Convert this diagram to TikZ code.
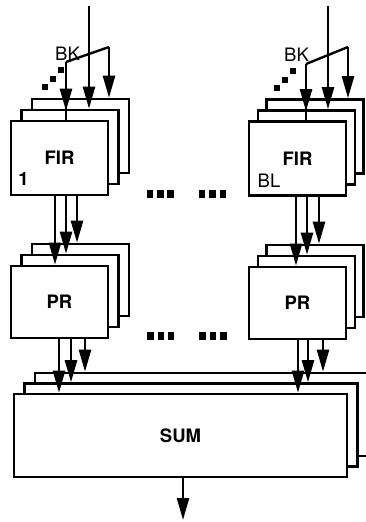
\documentclass[tikz,border=0pt]{standalone}
\usepackage{fontspec}
\setmainfont{TeX Gyre Heros}
\usetikzlibrary{arrows.meta}
\begin{document}
\begin{tikzpicture}[x=1pt,y=-1pt,
  box/.style={draw=black, line width=2.6pt, fill=white, inner sep=0pt,
    minimum width=97pt, minimum height=74pt,
    font=\fontsize{18.5}{18.5}\selectfont\bfseries},
  prbox/.style={box, minimum height=72pt},
  sumbox/.style={box, minimum width=333pt, minimum height=83pt},
  wire/.style={line width=2.4pt},
  arr/.style={wire, -{Triangle[width=12pt,length=22pt]}},
  sq/.style={fill=black, inner sep=0pt, minimum width=5.5pt, minimum height=5.5pt},
  el/.style={fill=black, inner sep=0pt, minimum width=6.5pt, minimum height=8pt},
  lab/.style={font=\fontsize{18.5}{18.5}\selectfont, inner sep=0pt}]
\useasboundingbox (0,0) rectangle (366,522);
\clip (0,0) rectangle (366,522);

% ---- FIR stacks ----
\node[box] (F1b) at (80.5,136) {};
\node[box] (F1m) at (70,147) {};
\node[box] (F1f) at (59.5,158) {FIR};
\node[box] (F2b) at (315,136.5) {};
\node[box] (F2m) at (306.5,147.5) {};
\node[box] (F2f) at (297.5,158.5) {FIR};

% ---- PR stacks ----
\node[prbox] (P1b) at (80.5,280) {};
\node[prbox] (P1m) at (70,291) {};
\node[prbox] (P1f) at (59.5,302) {PR};
\node[prbox] (P2b) at (315,281) {};
\node[prbox] (P2m) at (306.5,292) {};
\node[prbox] (P2f) at (297.5,303) {PR};

% ---- SUM stack ----
\node[sumbox] (Sb) at (201.5,414.5) {};
\node[sumbox] (Sm) at (191,425) {};
\node[sumbox] (Sf) at (180.5,435.5) {SUM};

% ---- labels ----
\node[lab] (bk1) at (67.5,54) {BK};
\node[lab] (bk2) at (296.5,54.5) {BK};
\node[lab, font=\fontsize{18.5}{18.5}\selectfont\bfseries] (n1) at (23.5,179) {1};
\node[lab] (nbl) at (269,181) {BL};

% staircase dots
\node[sq] (s11) at (45,87) {};
\node[sq] (s12) at (53,79) {};
\node[sq] (s13) at (61,70) {};
\node[sq] (s21) at (277,88) {};
\node[sq] (s22) at (285,80) {};
\node[sq] (s23) at (293,71) {};

% ellipsis dots
\foreach \x/\n in {150/a,160.5/b,170.5/c,202/d,212.5/e,223/f}{
  \node[el] (eF\n) at (\x,194) {};
  \node[el] (eP\n) at (\x+0.5,336) {};
}

% ---- inputs to FIR (left) ----
\coordinate (inL) at (89,6);
\coordinate (bL1) at (66,62);
\coordinate (bL2) at (109,47);
\draw[wire] (bL1) -- (bL2);
\draw[arr] (inL) -- (inL |- F1m.north);
\draw[arr] (bL2) -- (bL2 |- F1b.north);
\draw[wire] (bL1) -- (bL1 |- F1f.north);
\draw[arr, shorten >=9pt] (bL1) -- (bL1 |- F1f.north);

% ---- inputs to FIR (right) ----
\coordinate (inR) at (328,6);
\coordinate (bR1) at (306,64);
\coordinate (bR2) at (348,47);
\draw[wire] (bR1) -- (bR2);
\draw[arr] (inR) -- (inR |- F2m.north);
\draw[arr] (bR2) -- (bR2 |- F2b.north);
\draw[wire] (bR1) -- (bR1 |- F2f.north);
\draw[arr, shorten >=9pt] (bR1) -- (bR1 |- F2f.north);

% ---- FIR -> PR ----
\foreach \x/\t in {55/P1f,66/P1m,77/P1b}{
  \draw[arr] (\x,0 |- F1f.south) -- (\x,0 |- \t.north);
}
\foreach \x/\t in {296/P2f,307/P2m,319/P2b}{
  \draw[arr] (\x,0 |- F2f.south) -- (\x,0 |- \t.north);
}

% ---- PR -> SUM ----
\foreach \x/\t in {59/Sf,71/Sm,85/Sb}{
  \draw[arr] (\x,0 |- P1f.south) -- (\x,0 |- \t.north);
}
\foreach \x/\t in {298/Sf,308/Sm,323/Sb}{
  \draw[arr] (\x,0 |- P2f.south) -- (\x,0 |- \t.north);
}

% ---- output ----
\coordinate (out) at (183,520);
\draw[arr] (out |- Sf.south) -- (out);
\end{tikzpicture}
\end{document}
